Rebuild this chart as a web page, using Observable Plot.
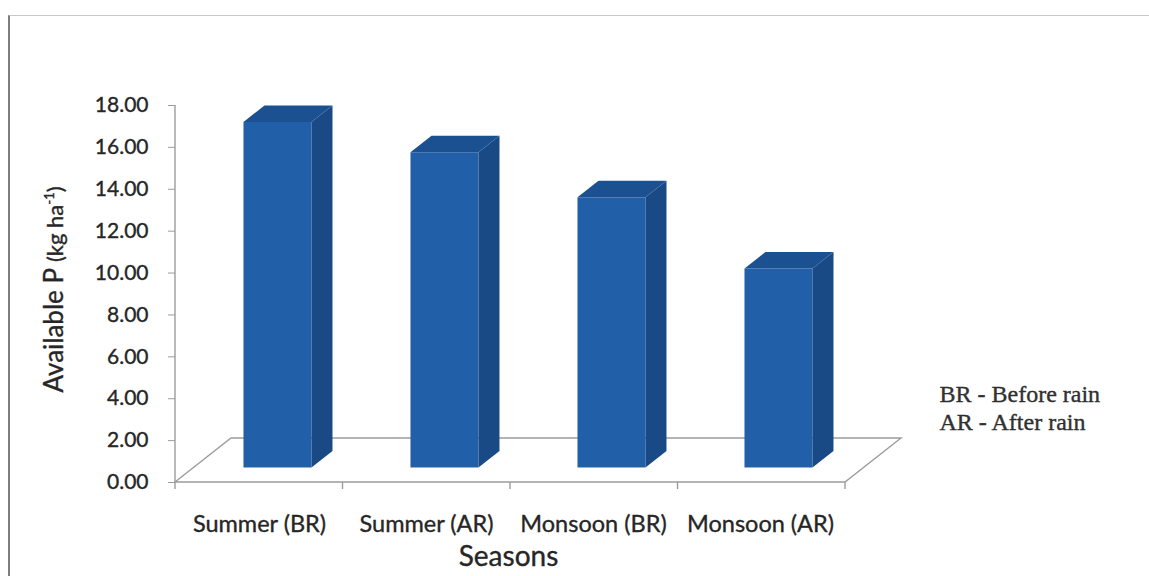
<!DOCTYPE html>
<html>
<head>
<meta charset="utf-8">
<script src="https://cdn.jsdelivr.net/npm/d3@7"></script>
<script src="https://cdn.jsdelivr.net/npm/@observablehq/plot@0.6"></script>
<style>
  html, body { margin: 0; padding: 0; background: #fff; }
  #chart { position: relative; width: 1149px; height: 576px; overflow: hidden; }
  #chart .frame-line {
    position: absolute; left: 8px; top: 15px; right: -2px; bottom: -2px;
    border-left: 2px solid #7d7d7d; border-top: 1.5px solid #c8c8c8;
    pointer-events: none;
  }
  #chart svg { position: absolute; left: 0; top: 0; }
  /* slightly heavier lettering */
  #chart svg text { stroke: #262626; stroke-width: 0.35px; }
  #chart svg text.serif-note { stroke: #333; stroke-width: 0.3px; }
</style>
</head>
<body>
<div id="chart"><div class="frame-line"></div></div>
<script>
// Available phosphorus by season, before (BR) and after (AR) rain
const seasons = ["Summer (BR)", "Summer (AR)", "Monsoon (BR)", "Monsoon (AR)"];
const availableP = [16.5, 15.05, 12.9, 9.5];
const yTicks = [0, 2, 4, 6, 8, 10, 12, 14, 16, 18];
const legendLines = ["BR - Before rain", "AR - After rain"];

const data = seasons.map((season, i) => ({season, value: availableP[i]}));

// pseudo-3D look: floor depth vector (px) and where the columns sit along it
const DEPTH = [56, -44];
const NEAR = 0.33, FAR = 0.705;
const near = [DEPTH[0] * NEAR, DEPTH[1] * NEAR];
const span = [DEPTH[0] * (FAR - NEAR), DEPTH[1] * (FAR - NEAR)];

const FRONT = "#2160a9", SIDE = "#1a4a86", TOP = "#1c5191", GRID = "#9c9c9c";

const pts = (a) => a.map(p => p.join(",")).join(" ");

// floor parallelogram, value axis line and category boundary ticks
function floorAndAxes(index, scales, values, dim) {
  const g = d3.create("svg:g");
  const x0 = dim.marginLeft, x1 = dim.width - dim.marginRight;
  const y0 = scales.y(0), yTop = scales.y(d3.max(yTicks));
  g.append("polygon")
    .attr("points", pts([[x0, y0], [x0 + DEPTH[0], y0 + DEPTH[1]], [x1 + DEPTH[0], y0 + DEPTH[1]], [x1, y0]]))
    .attr("fill", "none").attr("stroke", GRID).attr("stroke-width", 1.4);
  g.append("line").attr("x1", x0).attr("x2", x0).attr("y1", y0).attr("y2", yTop)
    .attr("stroke", GRID).attr("stroke-width", 1.4);
  const step = (x1 - x0) / seasons.length;
  d3.range(seasons.length + 1).forEach(i => {
    g.append("line").attr("x1", x0 + i * step).attr("x2", x0 + i * step)
      .attr("y1", y0).attr("y2", y0 + 7).attr("stroke", GRID).attr("stroke-width", 1.4);
  });
  return g.node();
}

// side and top faces of each column
function columnFaces(index, scales) {
  const g = d3.create("svg:g");
  const x = scales.x, y = scales.y;
  const bw = typeof x.bandwidth === "function" ? x.bandwidth() : x.bandwidth;
  for (const d of data) {
    const xl = x(d.season) + near[0], xr = xl + bw;
    const yt = y(d.value) + near[1], yb = y(0) + near[1];
    g.append("polygon")
      .attr("points", pts([[xr, yt], [xr + span[0], yt + span[1]], [xr + span[0], yb + span[1]], [xr, yb]]))
      .attr("fill", SIDE);
    g.append("polygon")
      .attr("points", pts([[xl, yt], [xl + span[0], yt + span[1]], [xr + span[0], yt + span[1]], [xr, yt]]))
      .attr("fill", TOP);
  }
  return g.node();
}

// rotated value-axis title with a smaller unit part
function yTitle(index, scales, values, dim) {
  const cy = (scales.y(0) + scales.y(d3.max(yTicks))) / 2 - 4;
  const t = d3.create("svg:text")
    .attr("transform", `translate(${dim.marginLeft - 112},${cy}) rotate(-90)`)
    .attr("text-anchor", "middle").attr("fill", "#262626")
    .attr("font-family", "Lato");
  t.append("tspan").attr("font-size", 26).text("Available P ");
  t.append("tspan").attr("font-size", 22).text("(kg ha");
  t.append("tspan").attr("font-size", 13).attr("dy", -9).text("-1");
  t.append("tspan").attr("font-size", 22).attr("dy", 9).text(")");
  return t.node();
}

const plot = Plot.plot({
  width: 1149,
  height: 576,
  marginLeft: 175,
  marginRight: 304,
  marginTop: 105,
  marginBottom: 94,
  style: {fontFamily: "Lato", background: "transparent", color: "#262626"},
  x: {domain: seasons, paddingInner: 0.59, paddingOuter: 0.295, axis: null},
  y: {domain: [0, 18], axis: null},
  marks: [
    floorAndAxes,
    Plot.axisY({ticks: yTicks, tickFormat: d3.format(".2f"), tickSize: 7, tickPadding: 20,
      fontSize: 21, stroke: GRID, fill: "#262626", label: null}),
    Plot.barY(data, {x: "season", y: "value", fill: FRONT, dx: near[0], dy: near[1]}),
    columnFaces,
    Plot.text(data, {x: "season", text: "season", frameAnchor: "bottom", lineAnchor: "middle",
      dy: 42, fontSize: 23.5, fill: "#262626"}),
    Plot.text(["Seasons"], {frameAnchor: "bottom", lineAnchor: "middle", dy: 75, dx: -2,
      fontSize: 28, fill: "#262626"}),
    yTitle,
    Plot.text([legendLines[0]], {frameAnchor: "right", textAnchor: "start", lineAnchor: "middle",
      dx: 94, dy: 100, fontSize: 24, fontFamily: "Liberation Serif", fill: "#333", className: "serif-note"}),
    Plot.text([legendLines[1]], {frameAnchor: "right", textAnchor: "start", lineAnchor: "middle",
      dx: 94, dy: 128, fontSize: 24, fontFamily: "Liberation Serif", fill: "#333", className: "serif-note"})
  ]
});

document.getElementById("chart").appendChild(plot);
</script>
</body>
</html>
